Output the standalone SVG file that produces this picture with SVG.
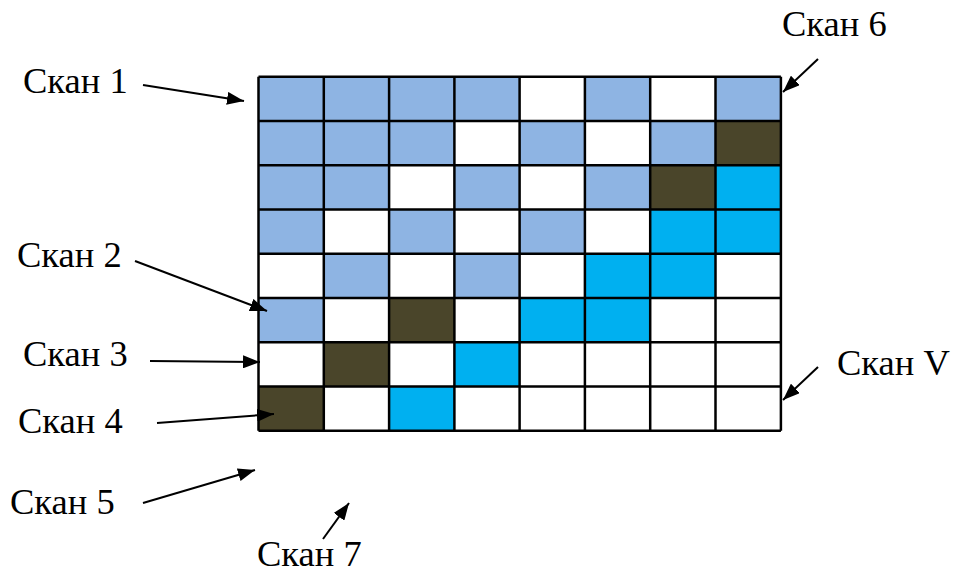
<svg xmlns="http://www.w3.org/2000/svg" width="953" height="575" viewBox="0 0 953 575">
  <defs>
    <marker id="head" viewBox="0 0 17 13" refX="17" refY="6.5" markerWidth="17" markerHeight="13" markerUnits="userSpaceOnUse" orient="auto">
      <polygon points="0,0 17,6.5 0,13" fill="#000"/>
    </marker>
  </defs>
  <style>
    .lb { fill: #8EB4E3; }
    .cy { fill: #00B0F0; }
    .dk { fill: #4A452A; }
    .wh { fill: #FFFFFF; }
    .grid { stroke: #000; stroke-width: 2.5; fill: none; }
    .lbl { font-family: "Liberation Serif", "Times New Roman", serif; font-size: 36.5px; fill: #000; }
    .arr { stroke: #000; stroke-width: 2; fill: none; marker-end: url(#head); }
  </style>

  <rect width="953" height="575" fill="#fff"/>

  <!-- 8x8 scan grid: cell 65.3 x 44.25, origin (258.5, 76.7) -->
  <g id="grid">
    <g id="cells">
      <!-- row 0 -->
      <rect class="lb" x="258.5" y="76.7" width="65.3" height="44.25"/>
      <rect class="lb" x="323.8" y="76.7" width="65.3" height="44.25"/>
      <rect class="lb" x="389.1" y="76.7" width="65.3" height="44.25"/>
      <rect class="lb" x="454.4" y="76.7" width="65.3" height="44.25"/>
      <rect class="lb" x="584.9" y="76.7" width="65.3" height="44.25"/>
      <rect class="lb" x="715.5" y="76.7" width="65.3" height="44.25"/>
      <!-- row 1 -->
      <rect class="lb" x="258.5" y="120.95" width="65.3" height="44.25"/>
      <rect class="lb" x="323.8" y="120.95" width="65.3" height="44.25"/>
      <rect class="lb" x="389.1" y="120.95" width="65.3" height="44.25"/>
      <rect class="lb" x="519.6" y="120.95" width="65.3" height="44.25"/>
      <rect class="lb" x="650.2" y="120.95" width="65.3" height="44.25"/>
      <rect class="dk" x="715.5" y="120.95" width="65.3" height="44.25"/>
      <!-- row 2 -->
      <rect class="lb" x="258.5" y="165.2" width="65.3" height="44.25"/>
      <rect class="lb" x="323.8" y="165.2" width="65.3" height="44.25"/>
      <rect class="lb" x="454.4" y="165.2" width="65.3" height="44.25"/>
      <rect class="lb" x="584.9" y="165.2" width="65.3" height="44.25"/>
      <rect class="dk" x="650.2" y="165.2" width="65.3" height="44.25"/>
      <rect class="cy" x="715.5" y="165.2" width="65.3" height="44.25"/>
      <!-- row 3 -->
      <rect class="lb" x="258.5" y="209.45" width="65.3" height="44.25"/>
      <rect class="lb" x="389.1" y="209.45" width="65.3" height="44.25"/>
      <rect class="lb" x="519.6" y="209.45" width="65.3" height="44.25"/>
      <rect class="cy" x="650.2" y="209.45" width="65.3" height="44.25"/>
      <rect class="cy" x="715.5" y="209.45" width="65.3" height="44.25"/>
      <!-- row 4 -->
      <rect class="lb" x="323.8" y="253.7" width="65.3" height="44.25"/>
      <rect class="lb" x="454.4" y="253.7" width="65.3" height="44.25"/>
      <rect class="cy" x="584.9" y="253.7" width="65.3" height="44.25"/>
      <rect class="cy" x="650.2" y="253.7" width="65.3" height="44.25"/>
      <!-- row 5 -->
      <rect class="lb" x="258.5" y="297.95" width="65.3" height="44.25"/>
      <rect class="dk" x="389.1" y="297.95" width="65.3" height="44.25"/>
      <rect class="cy" x="519.6" y="297.95" width="65.3" height="44.25"/>
      <rect class="cy" x="584.9" y="297.95" width="65.3" height="44.25"/>
      <!-- row 6 -->
      <rect class="dk" x="323.8" y="342.2" width="65.3" height="44.25"/>
      <rect class="cy" x="454.4" y="342.2" width="65.3" height="44.25"/>
      <!-- row 7 -->
      <rect class="dk" x="258.5" y="386.45" width="65.3" height="44.25"/>
      <rect class="cy" x="389.1" y="386.45" width="65.3" height="44.25"/>
    </g>
    <path class="grid" d="M258.5 76.7H780.9M258.5 120.95H780.9M258.5 165.2H780.9M258.5 209.45H780.9M258.5 253.7H780.9M258.5 297.95H780.9M258.5 342.2H780.9M258.5 386.45H780.9M258.5 430.7H780.9
      M258.5 76.7V430.7M323.8 76.7V430.7M389.1 76.7V430.7M454.4 76.7V430.7M519.6 76.7V430.7M584.9 76.7V430.7M650.2 76.7V430.7M715.5 76.7V430.7M780.9 76.7V430.7"/>
  </g>

  <!-- scan labels -->
  <g id="scan1"><text class="lbl" x="23" y="93">Скан 1</text></g>
  <g id="scan2"><text class="lbl" x="17" y="267">Скан 2</text></g>
  <g id="scan3"><text class="lbl" x="23" y="366">Скан 3</text></g>
  <g id="scan4"><text class="lbl" x="18" y="433">Скан 4</text></g>
  <g id="scan5"><text class="lbl" x="10" y="514">Скан 5</text></g>
  <g id="scan6"><text class="lbl" x="782" y="36">Скан 6</text></g>
  <g id="scan7"><text class="lbl" x="257" y="566">Скан 7</text></g>
  <g id="scanV"><text class="lbl" x="837" y="375">Скан V</text></g>

  <!-- arrows -->
  <g id="connectors">
    <line class="arr" x1="143" y1="85" x2="244" y2="101"/>
    <line class="arr" x1="135" y1="261" x2="267" y2="311"/>
    <line class="arr" x1="150" y1="361" x2="260" y2="362"/>
    <line class="arr" x1="157" y1="423" x2="274" y2="414"/>
    <line class="arr" x1="143" y1="503" x2="255" y2="470"/>
    <line class="arr" x1="818" y1="59" x2="783" y2="92"/>
    <line class="arr" x1="323" y1="539" x2="349" y2="503"/>
    <line class="arr" x1="818" y1="367" x2="783" y2="400"/>
  </g>
</svg>
